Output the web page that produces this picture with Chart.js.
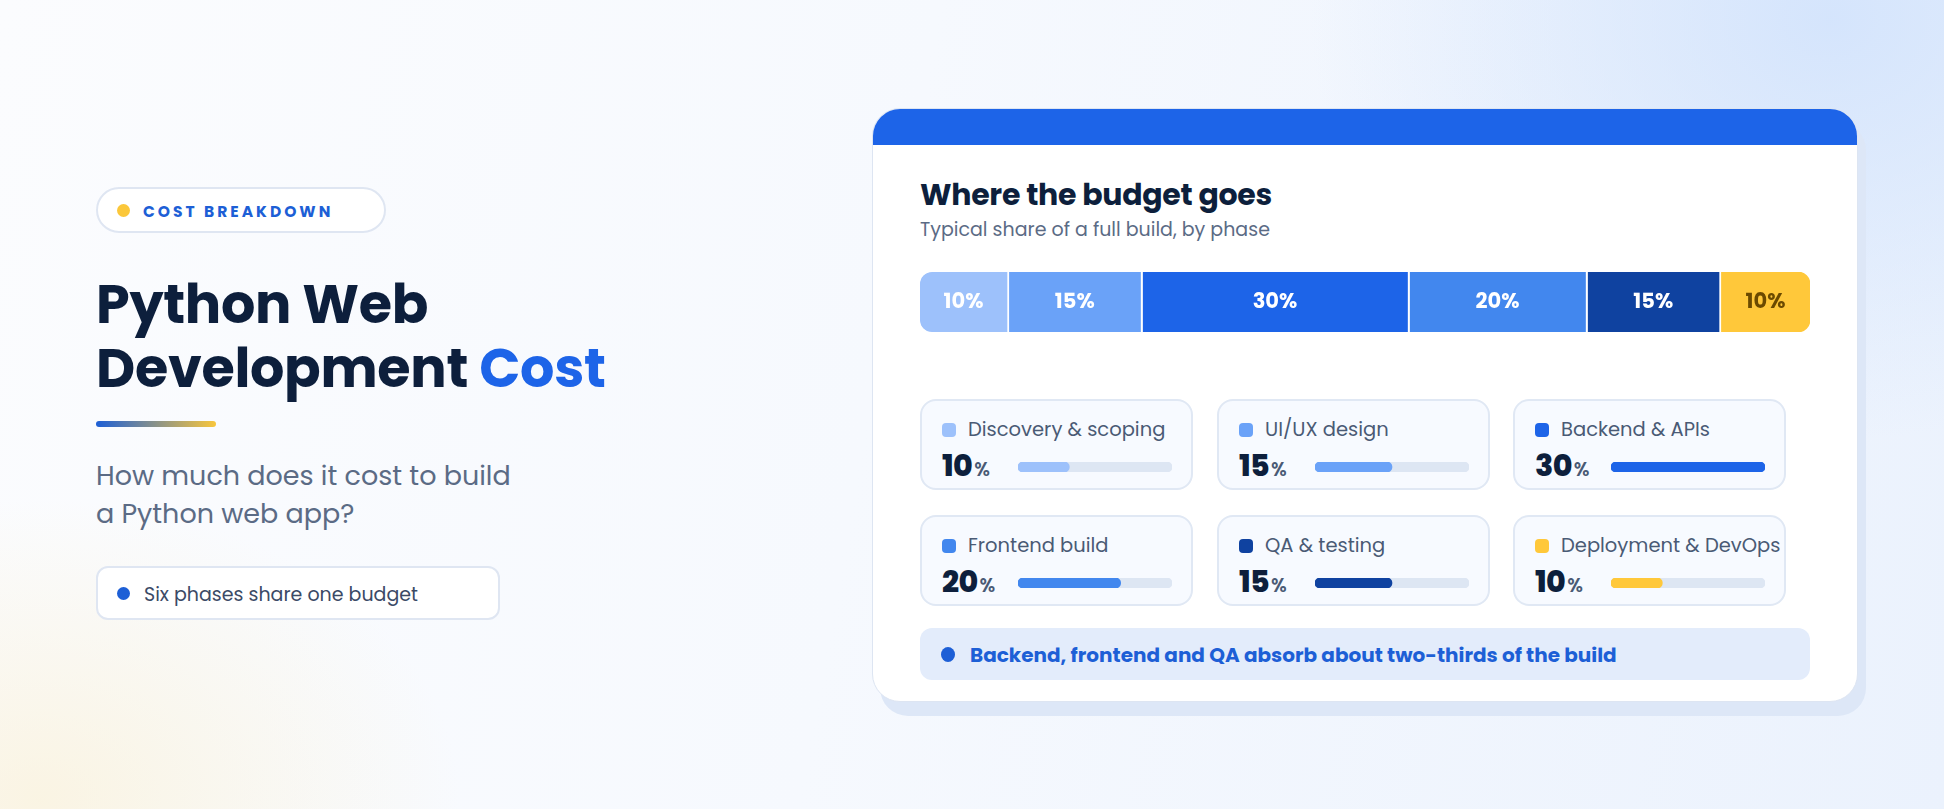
<!DOCTYPE html>
<html>
<head>
<meta charset="utf-8">
<script src="https://cdn.jsdelivr.net/npm/chart.js@4.4.1/dist/chart.umd.min.js"></script>
<style>
  html,body{margin:0;padding:0;}
  body{width:1944px;height:809px;overflow:hidden;position:relative;
    font-family:"Poppins","Inter","Open Sans",sans-serif;
    background:
      radial-gradient(ellipse 520px 420px at 1830px 20px, rgba(210,227,252,0.9), rgba(210,227,252,0) 100%),
      radial-gradient(ellipse 420px 300px at 40px 800px, rgba(250,238,205,0.55), rgba(250,238,205,0) 100%),
      linear-gradient(100deg,#fbfcfe 0%,#f6f9fe 45%,#ebf2fd 100%);
  }
  .abs{position:absolute;}
  .pill{left:96px;top:187px;width:290px;height:46px;box-sizing:border-box;border:2px solid #dfe6f2;border-radius:24px;background:#fff;}
  .pill .dot{position:absolute;left:19px;top:15px;width:13px;height:13px;border-radius:50%;background:#fbc73a;}
  .pill .txt{position:absolute;left:45px;top:11px;font-size:15.5px;font-weight:700;letter-spacing:3px;color:#1d5fd6;}
  .tl{left:96px;font-size:54px;font-weight:700;line-height:64px;height:64px;color:#0d1f3c;letter-spacing:-0.3px;white-space:nowrap;}
  .tl .c{color:#1d64e8;}
  .uline{left:96px;top:421px;width:120px;height:6px;border-radius:3px;background:linear-gradient(90deg,#1d5fd6,#f8c63c);}
  .sub{left:96px;top:457px;font-size:27px;line-height:38px;color:#5b6b85;font-weight:400;}
  .pill2{left:96px;top:566px;width:404px;height:54px;box-sizing:border-box;border:2px solid #dfe6f2;border-radius:12px;background:#fff;}
  .pill2 .dot{position:absolute;left:19px;top:19px;width:13px;height:13px;border-radius:50%;background:#1d5fd6;}
  .pill2 .txt{position:absolute;left:46px;top:12px;font-size:19px;color:#3b4a66;}
  .shadow{left:880px;top:122px;width:986px;height:594px;border-radius:28px;background:#dde7f7;}
  .card{left:872px;top:108px;width:986px;height:594px;box-sizing:border-box;border-radius:28px;background:#fff;border:1px solid #dde5f2;overflow:hidden;}
  .band{position:absolute;left:0;top:0;width:100%;height:36px;background:#1d64e8;}
  .ctitle{left:920px;top:172px;font-size:30px;font-weight:700;color:#0d1f3c;letter-spacing:-0.3px;white-space:nowrap;}
  .csub{left:920px;top:215px;font-size:19px;color:#5b6b85;white-space:nowrap;}
  .barwrap{left:920px;top:272px;width:890px;height:60px;}
  .lg{width:273px;height:91px;box-sizing:border-box;border:2px solid #e0e8f4;border-radius:16px;background:#f7faff;}
  .lg .sq{position:absolute;left:20px;top:22px;width:14px;height:14px;border-radius:4px;}
  .lg .lab{position:absolute;left:46px;top:14px;font-size:19.5px;color:#4a5a75;white-space:nowrap;}
  .lg .val{position:absolute;left:20px;top:42px;font-size:30px;font-weight:800;color:#0d1f3c;letter-spacing:-0.6px;white-space:nowrap;}
  .lg .val span{font-size:19px;font-weight:600;color:#4a5a75;margin-left:2px;letter-spacing:0;}
  .lg canvas{position:absolute;left:96px;top:61px;}
  .note{left:920px;top:628px;width:890px;height:52px;border-radius:12px;background:#e3ecfb;}
  .note .dot{position:absolute;left:21px;top:19px;width:14px;height:15px;border-radius:50%;background:#1d5fd6;}
  .note .txt{position:absolute;left:50px;top:12px;font-size:20px;font-weight:700;color:#1d5fd6;white-space:nowrap;}
</style>
</head>
<body>
<div class="abs pill"><div class="dot"></div><div class="txt">COST BREAKDOWN</div></div>
<div class="abs tl" style="top:272px">Python Web</div>
<div class="abs tl" style="top:336px">Development <span class="c">Cost</span></div>
<div class="abs uline"></div>
<div class="abs sub">How much does it cost to build<br>a Python web app?</div>
<div class="abs pill2"><div class="dot"></div><div class="txt">Six phases share one budget</div></div>

<div class="abs shadow"></div>
<div class="abs card"><div class="band"></div></div>
<div class="abs ctitle">Where the budget goes</div>
<div class="abs csub">Typical share of a full build, by phase</div>
<div class="abs barwrap"><canvas id="mainBar"></canvas></div>
<div id="legend"></div>
<div class="abs note"><div class="dot"></div><div class="txt">Backend, frontend and QA absorb about two-thirds of the build</div></div>

<script>
const phases = ["Discovery & scoping","UI/UX design","Backend & APIs","Frontend build","QA & testing","Deployment & DevOps"];
const shares = [10, 15, 30, 20, 15, 10];
const phaseColors = ["#9dc1fb","#6aa2f8","#1d64e8","#4287ee","#0f42a0","#ffc83a"];
const labelColors = ["#ffffff","#ffffff","#ffffff","#ffffff","#ffffff","#6b4a00"];
const trackColor = "#dde6f3";

const n = shares.length;
const datasets = shares.map((v, i) => ({
  label: phases[i],
  data: [v],
  backgroundColor: phaseColors[i],
  borderColor: "#ffffff",
  borderWidth: i < n - 1 ? {top:0,bottom:0,left:0,right:2} : 0,
  borderSkipped: false,
  borderRadius: i === 0 ? {topLeft:12,bottomLeft:12,topRight:0,bottomRight:0}
              : i === n - 1 ? {topLeft:0,bottomLeft:0,topRight:12,bottomRight:12}
              : {topLeft:0,bottomLeft:0,topRight:0,bottomRight:0},
  barPercentage: 1,
  categoryPercentage: 1
}));

const labelPlugin = {
  id: "segLabels",
  afterDatasetsDraw(chart) {
    const ctx = chart.ctx;
    ctx.save();
    ctx.font = '700 21px "Poppins","Inter",sans-serif';
    ctx.textAlign = "center";
    ctx.textBaseline = "middle";
    chart.data.datasets.forEach((ds, i) => {
      const meta = chart.getDatasetMeta(i);
      meta.data.forEach((el, j) => {
        const p = el.getCenterPoint();
        ctx.fillStyle = labelColors[i];
        ctx.fillText(ds.data[j] + "%", p.x - (i < n - 1 ? 1 : 0), p.y + 1);
      });
    });
    ctx.restore();
  }
};

new Chart(document.getElementById("mainBar"), {
  type: "bar",
  data: { labels: ["Budget"], datasets },
  options: {
    indexAxis: "y",
    responsive: true,
    maintainAspectRatio: false,
    animation: false,
    layout: { padding: 0 },
    plugins: { legend: { display: false }, tooltip: { enabled: false } },
    scales: {
      x: { stacked: true, display: false, min: 0, max: shares.reduce((a, b) => a + b, 0) },
      y: { stacked: true, display: false }
    }
  },
  plugins: [labelPlugin]
});

// legend cards with mini bars
const maxShare = Math.max(...shares);
const legend = document.getElementById("legend");
const colX = [920, 1217, 1513];
const rowY = [399, 515];
phases.forEach((name, i) => {
  const card = document.createElement("div");
  card.className = "abs lg";
  card.style.left = colX[i % 3] + "px";
  card.style.top = rowY[Math.floor(i / 3)] + "px";
  card.innerHTML = '<div class="sq" style="background:' + phaseColors[i] + '"></div>' +
    '<div class="lab"></div>' +
    '<div class="val">' + shares[i] + '<span>%</span></div>';
  card.querySelector(".lab").textContent = name;
  const cv = document.createElement("canvas");
  cv.width = 154; cv.height = 10;
  cv.style.width = "154px"; cv.style.height = "10px";
  card.appendChild(cv);
  legend.appendChild(card);
  new Chart(cv, {
    type: "bar",
    data: {
      labels: [name],
      datasets: [
        { data: [shares[i]], backgroundColor: phaseColors[i], borderRadius: 5, borderSkipped: false, grouped: false, order: 0, barPercentage: 1, categoryPercentage: 1 },
        { data: [maxShare], backgroundColor: trackColor, borderRadius: 5, borderSkipped: false, grouped: false, order: 1, barPercentage: 1, categoryPercentage: 1 }
      ]
    },
    options: {
      indexAxis: "y",
      responsive: false,
      animation: false,
      devicePixelRatio: 1,
      layout: { padding: 0 },
      plugins: { legend: { display: false }, tooltip: { enabled: false } },
      scales: {
        x: { display: false, min: 0, max: maxShare },
        y: { display: false }
      }
    }
  });
});
</script>
</body>
</html>
